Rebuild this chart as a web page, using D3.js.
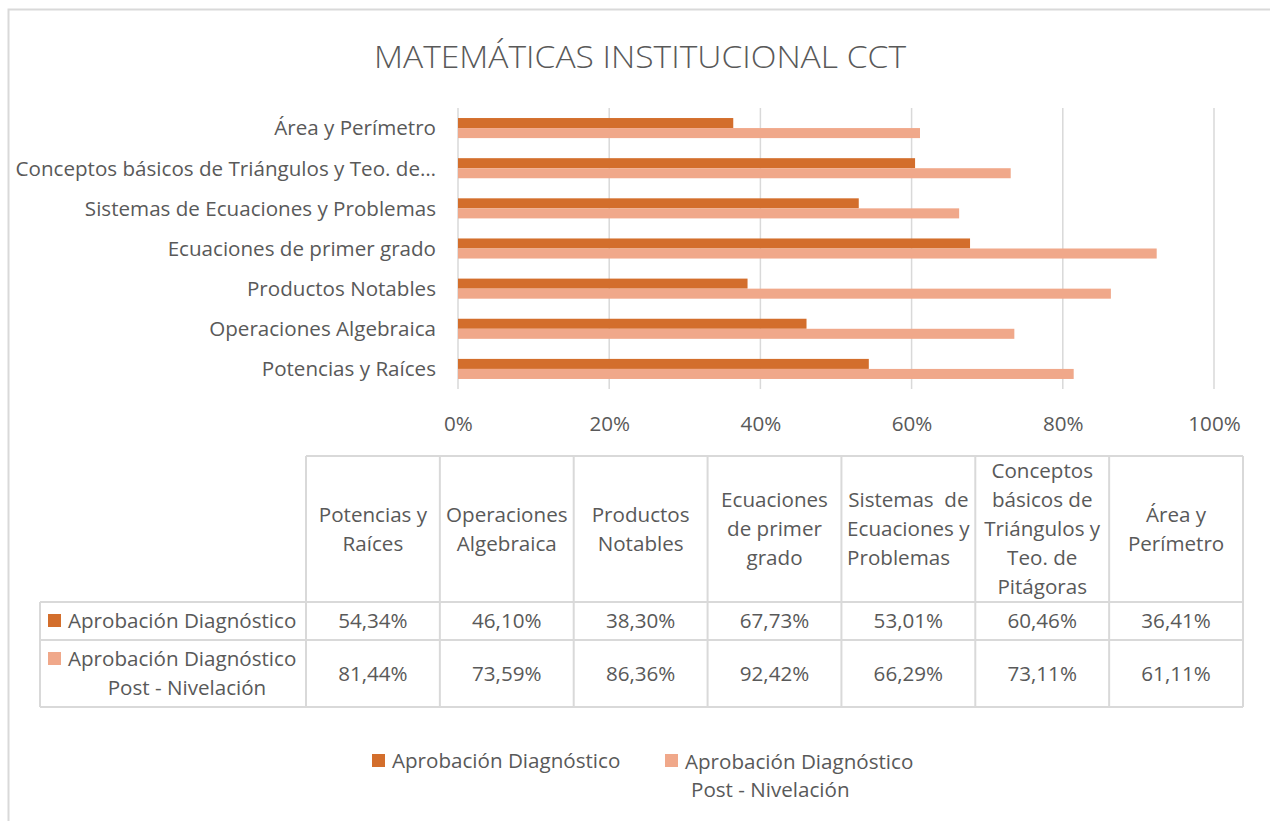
<!DOCTYPE html>
<html>
<head>
<meta charset="utf-8">
<script src="https://cdn.jsdelivr.net/npm/d3@7"></script>
<style>
  body { margin: 0; background: #fff; }
  text { font-family: "Open Sans", Lato, sans-serif; fill: #595959; }
</style>
</head>
<body>
<div id="chart"></div>
<script>
// data, in table order (bottom to top on the bar chart)
const categories = [
  "Potencias y Raíces",
  "Operaciones Algebraica",
  "Productos Notables",
  "Ecuaciones de primer grado",
  "Sistemas de Ecuaciones y Problemas",
  "Conceptos básicos de Triángulos y Teo. de Pitágoras",
  "Área y Perímetro"
];
const axisLabels = [
  "Potencias y Raíces",
  "Operaciones Algebraica",
  "Productos Notables",
  "Ecuaciones de primer grado",
  "Sistemas de Ecuaciones y Problemas",
  "Conceptos básicos de Triángulos y Teo. de…",
  "Área y Perímetro"
];
const headerLines = [
  ["Potencias y", "Raíces"],
  ["Operaciones", "Algebraica"],
  ["Productos", "Notables"],
  ["Ecuaciones", "de primer", "grado"],
  ["Sistemas  de", "Ecuaciones y", "Problemas"],
  ["Conceptos", "básicos de", "Triángulos y", "Teo. de", "Pitágoras"],
  ["Área y", "Perímetro"]
];
const diagnostico = [0.5434, 0.4610, 0.3830, 0.6773, 0.5301, 0.6046, 0.3641];
const postNivelacion = [0.8144, 0.7359, 0.8636, 0.9242, 0.6629, 0.7311, 0.6111];
const seriesNames = ["Aprobación Diagnóstico", "Aprobación Diagnóstico Post - Nivelación"];
const colors = ["#D36E2C", "#F0A88A"];
const xTicks = [0, 0.2, 0.4, 0.6, 0.8, 1];

const W = 1270, H = 821;
const FS = 20.6;
const svg = d3.select("#chart").append("svg")
  .attr("width", W).attr("height", H);

const grey = "#d9d9d9";

// chart border
svg.append("path")
  .attr("d", `M8.5,${H} L8.5,9.5 L${W},9.5`)
  .attr("fill", "none")
  .attr("stroke", grey)
  .attr("stroke-width", 2);

// title
svg.append("text")
  .attr("x", 640).attr("y", 68)
  .attr("text-anchor", "middle")
  .attr("font-size", 32)
  .attr("font-weight", 300)
  .attr("textLength", 532)
  .attr("lengthAdjust", "spacingAndGlyphs")
  .text("MATEMÁTICAS INSTITUCIONAL CCT");

// bar chart
const x = d3.scaleLinear().domain([0, 1]).range([458, 1214]);
const y = d3.scaleBand()
  .domain(categories.slice().reverse())
  .range([108, 389])
  .paddingInner(0.5)
  .paddingOuter(0.25);
const ySub = d3.scaleBand().domain([0, 1]).range([0, y.bandwidth()]);

const grid = svg.append("g");
grid.selectAll("line").data(xTicks).join("line")
  .attr("x1", d => x(d)).attr("x2", d => x(d))
  .attr("y1", 108).attr("y2", 389)
  .attr("stroke", grey).attr("stroke-width", 1.5);

const xAxis = d3.axisBottom(x)
  .tickValues(xTicks)
  .tickFormat(d3.format(".0%"))
  .tickSize(0)
  .tickPadding(0);
const gx = svg.append("g").attr("transform", "translate(0,416)").call(xAxis);
gx.select(".domain").remove();
gx.selectAll("text")
  .attr("font-size", FS)
  .attr("dy", "0.71em")
  .attr("fill", "#595959")
  .style("font-family", "'Open Sans', sans-serif");

const rows = [diagnostico, postNivelacion];
rows.forEach((vals, s) => {
  svg.append("g").selectAll("rect").data(vals).join("rect")
    .attr("x", x(0))
    .attr("y", (d, i) => y(categories[i]) + ySub(s))
    .attr("width", d => x(d) - x(0))
    .attr("height", ySub.bandwidth())
    .attr("fill", colors[s]);
});

// category labels
svg.append("g").selectAll("text").data(categories).join("text")
  .attr("x", 436)
  .attr("y", d => y(d) + y.bandwidth() / 2)
  .attr("dy", "0.36em")
  .attr("text-anchor", "end")
  .attr("font-size", FS)
  .text((d, i) => axisLabels[i]);

// data table
const col = d3.scaleBand().domain(categories).range([306, 1243]);
const tTop = 456, hBot = 602, r1Bot = 640, r2Bot = 707, tLeft = 40;
const t = svg.append("g")
  .attr("stroke", grey).attr("stroke-width", 2).attr("fill", "none");
t.append("line").attr("x1", 306).attr("x2", 1243).attr("y1", tTop).attr("y2", tTop);
[hBot, r1Bot, r2Bot].forEach(yy =>
  t.append("line").attr("x1", tLeft).attr("x2", 1243).attr("y1", yy).attr("y2", yy));
t.append("line").attr("x1", tLeft).attr("x2", tLeft).attr("y1", hBot).attr("y2", r2Bot);
categories.forEach(c =>
  t.append("line").attr("x1", col(c)).attr("x2", col(c)).attr("y1", tTop).attr("y2", r2Bot));
t.append("line").attr("x1", 1243).attr("x2", 1243).attr("y1", tTop).attr("y2", r2Bot);

const lh = 29;
const hMid = (tTop + hBot) / 2;
categories.forEach((c, i) => {
  const lines = headerLines[i];
  const cx = col(c) + col.bandwidth() / 2;
  const y0 = hMid - (lines.length - 1) * lh / 2;
  const g = svg.append("g");
  const texts = lines.map((ln, j) => g.append("text")
    .attr("x", cx).attr("y", y0 + j * lh)
    .attr("dy", "0.36em")
    .attr("text-anchor", "middle")
    .attr("font-size", FS)
    .attr("xml:space", "preserve")
    .style("white-space", "pre")
    .text(ln));
  // the "Sistemas" header wraps its last line flush left
  if (i === 4) {
    const w = texts[1].node().getComputedTextLength();
    texts[2].attr("text-anchor", "start").attr("x", cx - w / 2);
  }
});

const pct = v => d3.format(".2f")(v * 100).replace(".", ",") + "%";
const rowMid = [(hBot + r1Bot) / 2, (r1Bot + r2Bot) / 2];
rows.forEach((vals, s) => {
  svg.append("g").selectAll("text").data(vals).join("text")
    .attr("x", (d, i) => col(categories[i]) + col.bandwidth() / 2)
    .attr("y", rowMid[s])
    .attr("dy", "0.36em")
    .attr("text-anchor", "middle")
    .attr("font-size", FS)
    .text(pct);
});

// row legend keys
svg.append("rect").attr("x", 48).attr("y", 614).attr("width", 13).attr("height", 13).attr("fill", colors[0]);
svg.append("text").attr("x", 68).attr("y", rowMid[0]).attr("dy", "0.36em")
  .attr("font-size", FS).text(seriesNames[0]);
svg.append("rect").attr("x", 48).attr("y", 652).attr("width", 13).attr("height", 13).attr("fill", colors[1]);
svg.append("text").attr("x", 68).attr("y", 659).attr("dy", "0.36em")
  .attr("font-size", FS).text("Aprobación Diagnóstico");
svg.append("text").attr("x", 187).attr("y", 688).attr("dy", "0.36em")
  .attr("text-anchor", "middle")
  .attr("font-size", FS).text("Post - Nivelación");

// bottom legend
svg.append("rect").attr("x", 372).attr("y", 754).attr("width", 13).attr("height", 13).attr("fill", colors[0]);
svg.append("text").attr("x", 392).attr("y", 761).attr("dy", "0.36em")
  .attr("font-size", FS).text(seriesNames[0]);
svg.append("rect").attr("x", 665).attr("y", 754).attr("width", 13).attr("height", 13).attr("fill", colors[1]);
svg.append("text").attr("x", 685).attr("y", 762).attr("dy", "0.36em")
  .attr("font-size", FS).text("Aprobación Diagnóstico");
svg.append("text").attr("x", 691).attr("y", 790).attr("dy", "0.36em")
  .attr("font-size", FS).text("Post - Nivelación");
</script>
</body>
</html>
